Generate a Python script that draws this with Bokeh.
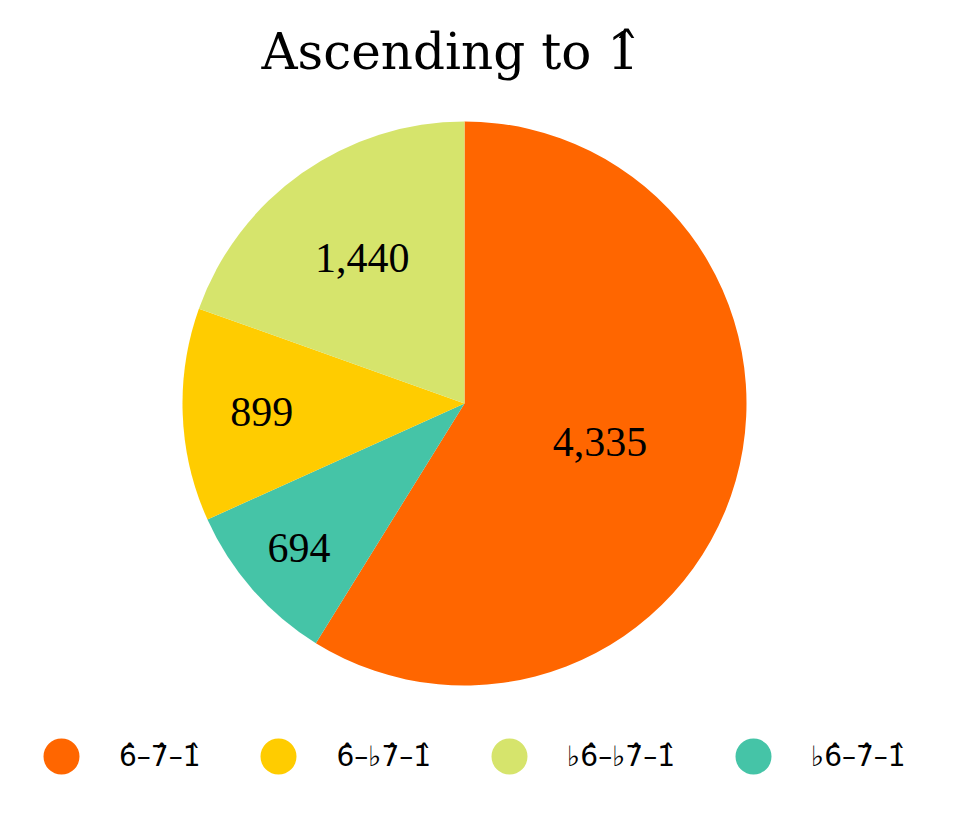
import math
from bokeh.plotting import figure
from bokeh.models import ColumnDataSource, Range1d, Legend, LegendItem, Title
from bokeh.core.properties import value
from bokeh.embed import file_html
from bokeh.resources import INLINE

# ---- data (legend order) ----
title_text = "Ascending to 1\u0302"
categories = ["6\u0302\u20137\u0302\u20131\u0302",
              "6\u0302\u2013\u266d7\u0302\u20131\u0302",
              "\u266d6\u0302\u2013\u266d7\u0302\u20131\u0302",
              "\u266d6\u0302\u20137\u0302\u20131\u0302"]
counts = [4335, 899, 1440, 694]
colors = ["#ff6600", "#ffcc00", "#d6e46c", "#45c4a7"]
# order of slices clockwise from 12 o'clock (indices into the lists above)
slice_order = [0, 3, 1, 2]
# radial position of each label, as a fraction of the radius (slice order)
label_radius = [0.50, 0.78, 0.72, 0.63]

NUM_FONT = "Liberation Serif"
TITLE_FONT = "DejaVu Serif"    # places the circumflex over 1 correctly
LEGEND_FONT = "DejaVu Sans"    # places circumflexes over 6, 7, 1 correctly

# ---- layout (pixels) ----
W = 946
TOP = 100         # space above the frame (title lives here)
FRAME_H = 722
CX = 464          # pie centre, from frame left
CY_TOP = 303      # pie centre, from frame top
R_PX = 282

x_range = Range1d(-CX / R_PX, (W - CX) / R_PX)
y_range = Range1d(-(FRAME_H - CY_TOP) / R_PX, CY_TOP / R_PX)

p = figure(frame_width=W, frame_height=FRAME_H,
           x_range=x_range, y_range=y_range,
           output_backend="svg", toolbar_location=None,
           min_border=0, min_border_top=TOP, title=None)
p.axis.visible = False
p.grid.visible = False
p.outline_line_color = None
p.background_fill_color = "white"
p.border_fill_color = "white"

p.add_layout(Title(text=title_text, text_font=TITLE_FONT, text_font_size="50px",
                   text_font_style="normal", text_color="#000000",
                   align="left", offset=261, standoff=40), "above")

# ---- wedges ----
total = float(sum(counts))
starts, ends, fills, lx, ly, ltext = [], [], [], [], [], []
acc = 0.0
for k, i in enumerate(slice_order):
    a0 = acc / total * 2 * math.pi
    acc += counts[i]
    a1 = acc / total * 2 * math.pi
    starts.append(math.pi / 2 - a0)
    ends.append(math.pi / 2 - a1)
    fills.append(colors[i])
    mid = (a0 + a1) / 2
    rr = label_radius[k]
    lx.append(rr * math.sin(mid))
    ly.append(rr * math.cos(mid))
    ltext.append(f"{counts[i]:,}")

src = ColumnDataSource(dict(start=starts, end=ends, color=fills))
p.wedge(x=0, y=0, radius=1, start_angle="start", end_angle="end",
        direction="clock", fill_color="color", line_color=None, source=src)

lsrc = ColumnDataSource(dict(x=lx, y=ly, t=ltext))
p.text(x="x", y="y", text="t", source=lsrc, text_font=value(NUM_FONT),
       text_font_size="42px", text_align="center", text_baseline="middle",
       text_color="#000000")

# ---- legend (circle markers, not drawn in the plot) ----
leg_src = ColumnDataSource(dict(x=[float("nan")] * len(categories),
                                y=[float("nan")] * len(categories),
                                color=colors))
dots = p.scatter(x="x", y="y", marker="circle", size=10, fill_color="color",
                 line_color=None, source=leg_src)
items = [LegendItem(label=c, renderers=[dots], index=i) for i, c in enumerate(categories)]
legend = Legend(items=items, orientation="horizontal",
                location=(16, 21), glyph_width=90, glyph_height=90,
                label_standoff=13, spacing=33, padding=0, margin=0,
                border_line_color=None, background_fill_alpha=0,
                label_text_font=LEGEND_FONT, label_text_font_size="28px",
                label_text_color="#000000", label_text_baseline="middle")
p.add_layout(legend, "center")

open("out.html", "w").write(file_html(p, INLINE))
